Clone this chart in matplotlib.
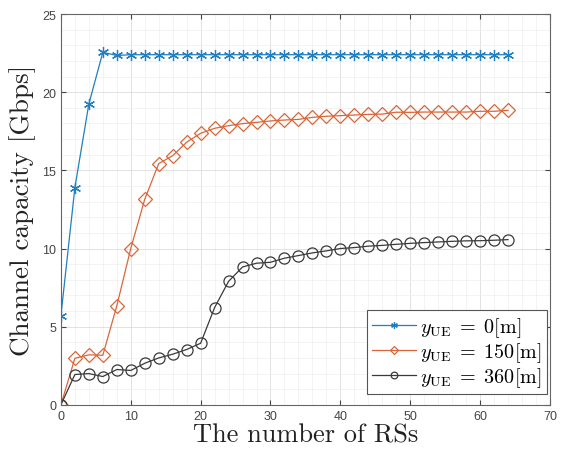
import numpy as np
import matplotlib
matplotlib.use("Agg")
import matplotlib.pyplot as plt
from matplotlib.ticker import MultipleLocator

plt.rcParams['mathtext.fontset'] = 'cm'

rs = list(range(0, 65, 2))
cap_0 = [5.7, 13.9, 19.25, 22.55, 22.35, 22.4, 22.4, 22.4, 22.4, 22.4, 22.4,
         22.4, 22.4, 22.4, 22.4, 22.4, 22.4, 22.4, 22.4, 22.4, 22.4, 22.4,
         22.4, 22.4, 22.4, 22.4, 22.4, 22.4, 22.4, 22.4, 22.4, 22.4, 22.4]
cap_150 = [0.0, 2.98, 3.2, 3.17, 6.33, 10.0, 13.15, 15.43, 15.94, 16.8, 17.37,
           17.69, 17.86, 17.99, 18.07, 18.16, 18.22, 18.26, 18.39, 18.46, 18.5,
           18.54, 18.58, 18.6, 18.72, 18.71, 18.73, 18.73, 18.73, 18.73, 18.78,
           18.78, 18.84]
cap_360 = [0.0, 1.94, 2.0, 1.81, 2.26, 2.2, 2.66, 3.0, 3.24, 3.54, 3.94,
           6.22, 7.9, 8.82, 9.06, 9.12, 9.38, 9.55, 9.72, 9.85, 10.0, 10.06,
           10.15, 10.2, 10.27, 10.33, 10.38, 10.42, 10.46, 10.49, 10.5, 10.53,
           10.57]

fig = plt.figure(figsize=(5.64, 4.56), dpi=100)
ax = fig.add_axes([0.108, 0.110, 0.867, 0.857])

ax.plot(rs, cap_0, '-', marker=(6, 2, 0), color='#1f7fc0', lw=0.9, ms=8,
        mew=0.9, label=r'$y_{\rm UE}\;=\;0[{\rm m}]$')
ax.plot(rs, cap_150, '-D', color='#d9663a', lw=0.9, ms=7.5, mew=0.9,
        mfc='none', label=r'$y_{\rm UE}\;=\;150[{\rm m}]$')
ax.plot(rs, cap_360, '-o', color='#3a3a3a', lw=0.9, ms=8, mew=0.9,
        mfc='none', label=r'$y_{\rm UE}\;=\;360[{\rm m}]$')

ax.set_xlim(0, 70)
ax.set_ylim(0, 25)
ax.xaxis.set_major_locator(MultipleLocator(10))
ax.xaxis.set_minor_locator(MultipleLocator(2))
ax.yaxis.set_major_locator(MultipleLocator(5))
ax.yaxis.set_minor_locator(MultipleLocator(1))
ax.grid(which='major', color='#dddddd', lw=0.6)
ax.grid(which='minor', color='#eeeeee', lw=0.5)
ax.tick_params(which='both', direction='in', top=True, right=True,
               labelsize=9, colors='#444444')
ax.tick_params(which='minor', length=0)
for lab in ax.get_xticklabels() + ax.get_yticklabels():
    lab.set_fontname('Liberation Sans')
for s in ax.spines.values():
    s.set_color('#666666')
    s.set_linewidth(0.8)

ax.set_xlabel('The number of RSs', fontsize=19, fontname='cmr10',
              color='#222222', labelpad=1)
ax.set_ylabel('Channel capacity [Gbps]', fontsize=19.5, fontname='cmr10',
              color='#222222', labelpad=4)

leg = ax.legend(loc='lower right', bbox_to_anchor=(0.994, 0.028),
                borderaxespad=0, fontsize=14.5, fancybox=False,
                framealpha=1, edgecolor='#555555', handlelength=2.2,
                labelspacing=0.05, handletextpad=0.2, borderpad=0.25,
                markerscale=0.6)
leg.get_frame().set_linewidth(0.8)

fig.savefig('out.png', dpi=100)
